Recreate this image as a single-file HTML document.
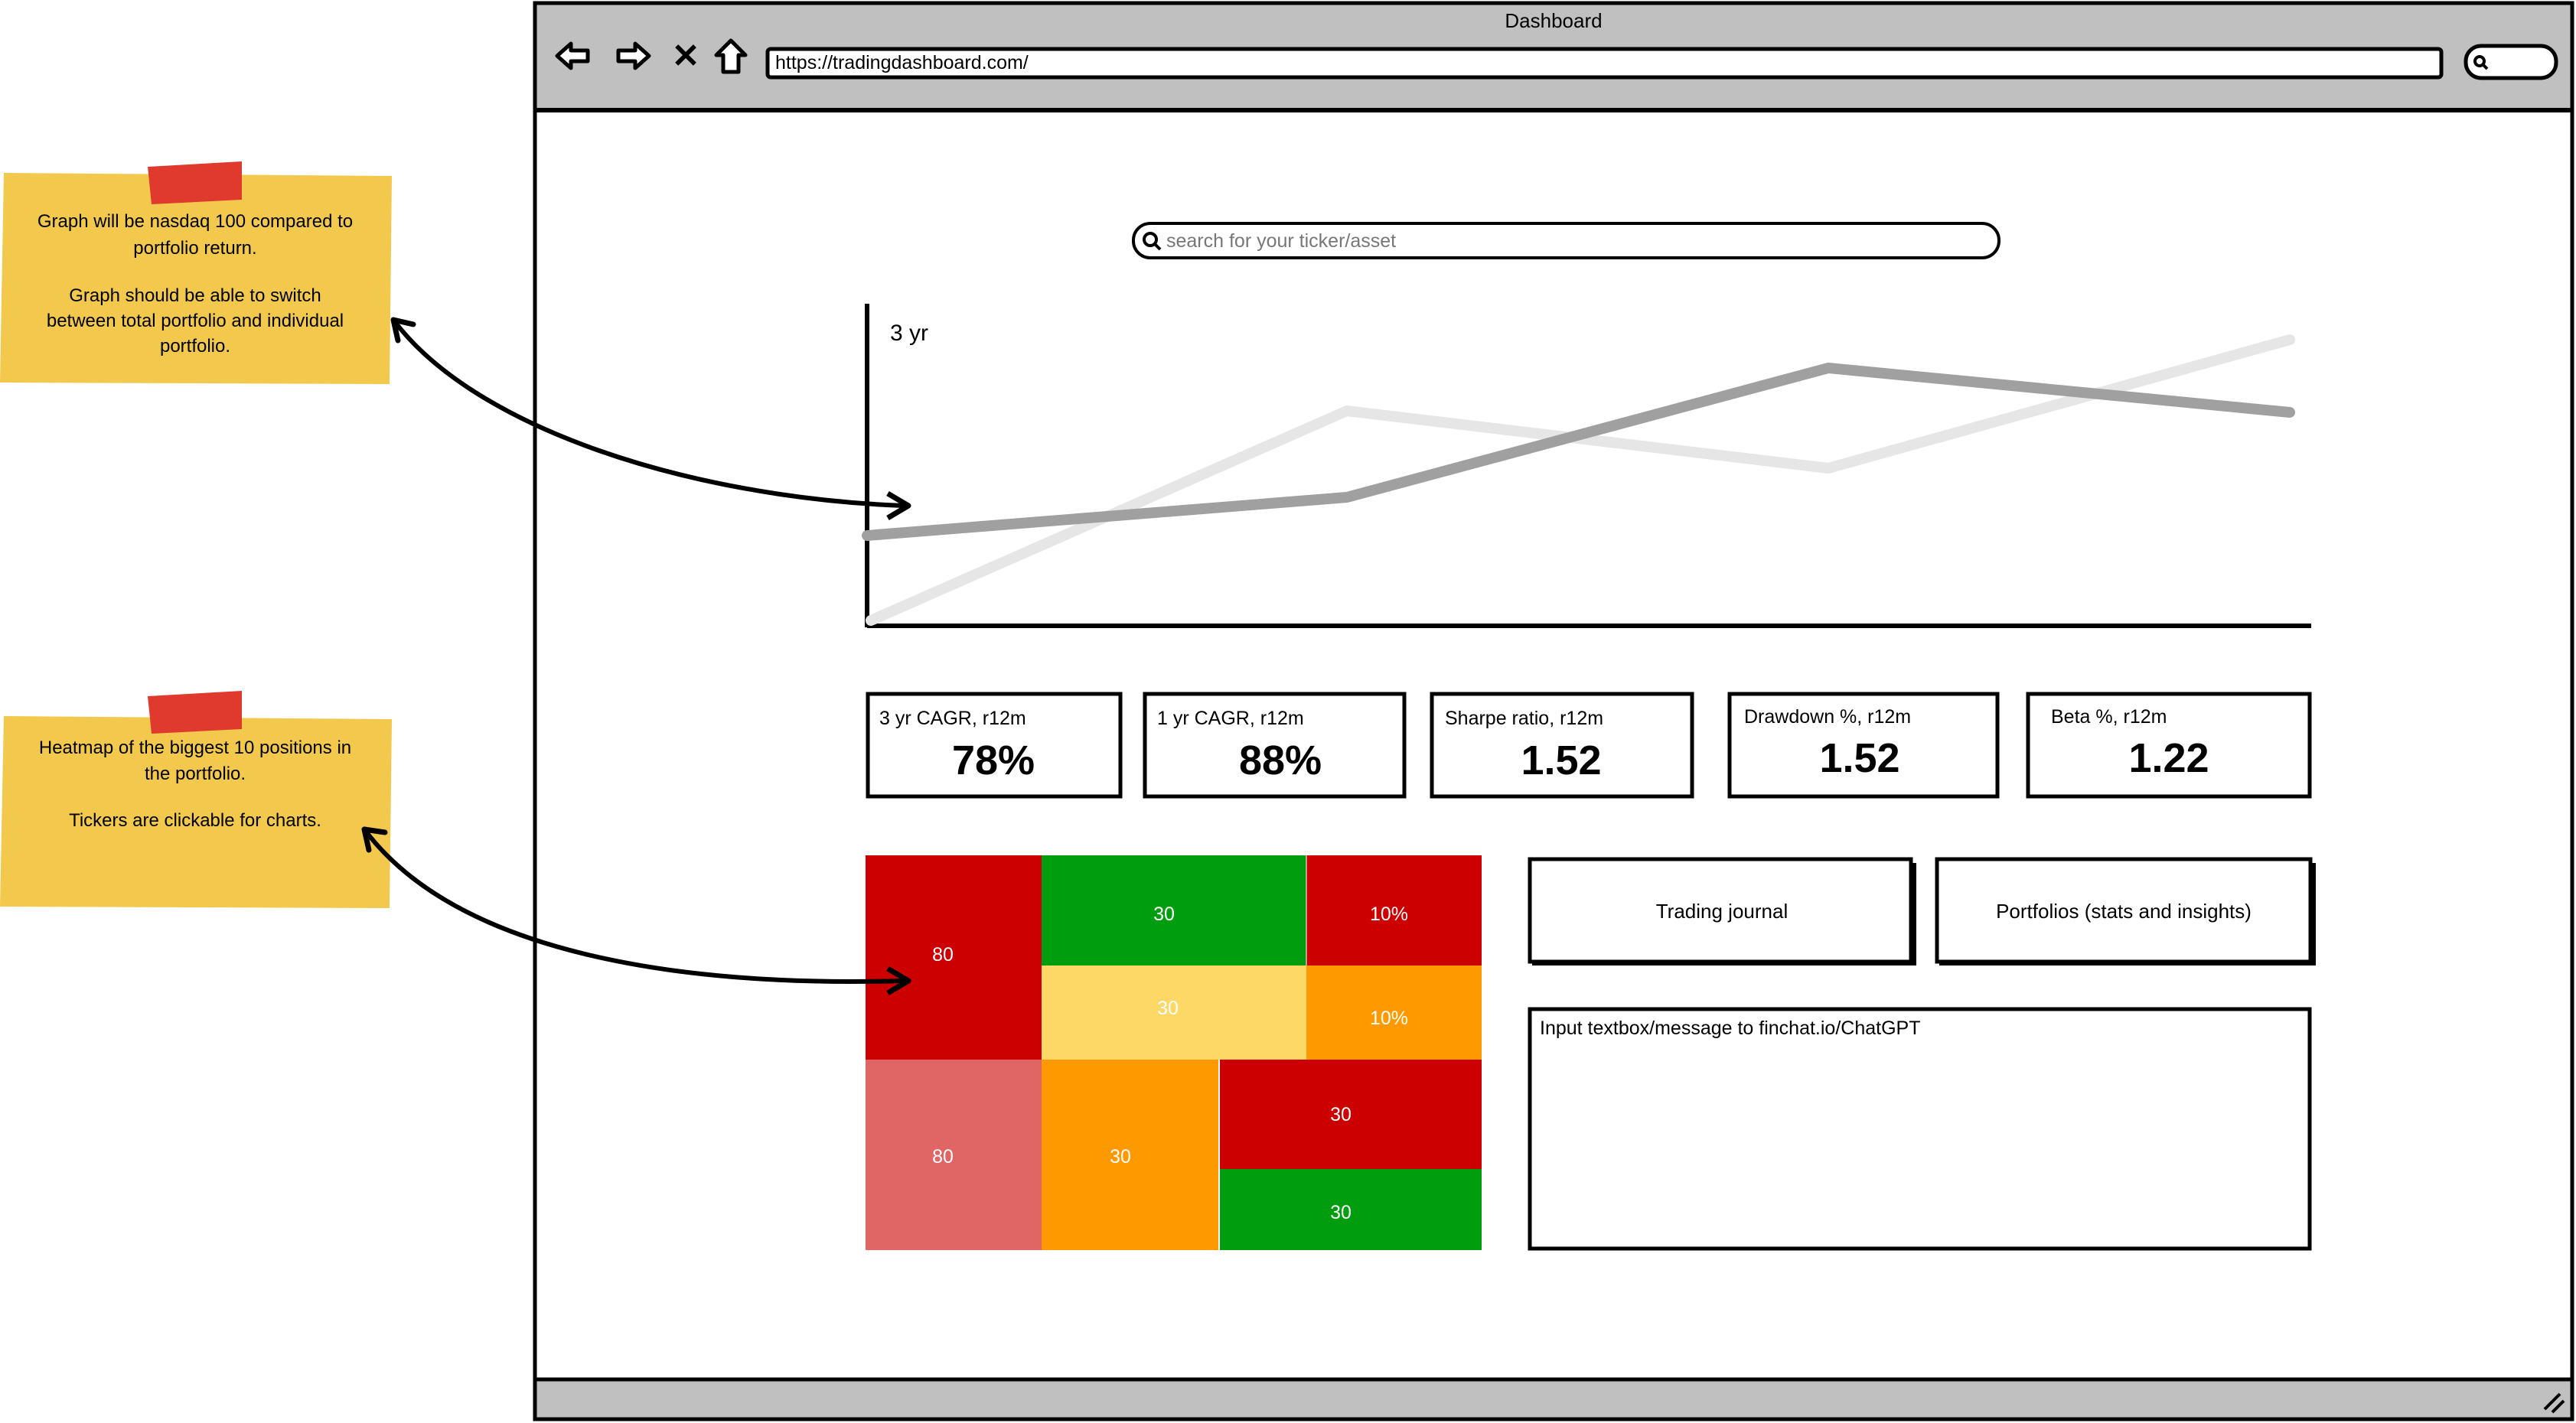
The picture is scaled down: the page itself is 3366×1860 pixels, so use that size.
<!DOCTYPE html>
<html><head><meta charset="utf-8"><style>
html,body{margin:0;padding:0;background:#fff;}
svg{display:block;}
text{font-family:"Liberation Sans",sans-serif;}
</style></head><body>
<svg width="3366" height="1860" viewBox="0 0 3366 1860" xmlns="http://www.w3.org/2000/svg">
<!-- browser window -->
<rect x="699" y="4" width="2662" height="1851" fill="#fff" stroke="#000" stroke-width="5"/>
<rect x="699" y="4" width="2662" height="140" fill="#c0c0c0" stroke="#000" stroke-width="5"/>
<rect x="699" y="1803" width="2662" height="52" fill="#c0c0c0" stroke="#000" stroke-width="5"/>
<line x1="699" y1="144" x2="3361" y2="144" stroke="#000" stroke-width="6"/>
<text x="2030" y="36" font-size="26" text-anchor="middle">Dashboard</text>
<!-- nav icons -->
<path d="M728 73 L746 57 L746 66 L768 66 L768 80 L746 80 L746 89 Z" fill="#fff" stroke="#000" stroke-width="5" stroke-linejoin="round"/>
<path d="M848 73 L830 57 L830 66 L808 66 L808 80 L830 80 L830 89 Z" fill="#fff" stroke="#000" stroke-width="5" stroke-linejoin="round"/>
<text x="896" y="88" font-size="44" font-weight="bold" text-anchor="middle">✕</text>
<path d="M955 53 L974 72 L965 72 L965 94 L945 94 L945 72 L936 72 Z" fill="#fff" stroke="#000" stroke-width="5" stroke-linejoin="round"/>
<rect x="1003" y="64" width="2187" height="37" rx="4" fill="#fff" stroke="#000" stroke-width="5"/>
<text x="1013" y="90" font-size="25">https://tradingdashboard.com/</text>
<rect x="3222" y="60" width="118" height="42" rx="20" fill="#fff" stroke="#000" stroke-width="5"/>
<circle cx="3240" cy="80" r="6" fill="none" stroke="#000" stroke-width="4"/>
<line x1="3244" y1="84" x2="3250" y2="90" stroke="#000" stroke-width="4"/>
<path d="M3325 1842 L3345 1822 M3335 1846 L3350 1831" stroke="#000" stroke-width="4"/>
<!-- search -->
<rect x="1481" y="292" width="1131" height="45" rx="22" fill="#fff" stroke="#000" stroke-width="4"/>
<circle cx="1503" cy="313" r="8" fill="none" stroke="#000" stroke-width="4"/>
<line x1="1509" y1="319" x2="1516" y2="326" stroke="#000" stroke-width="4"/>
<text x="1524" y="323" font-size="25" fill="#777">search for your ticker/asset</text>
<!-- chart -->
<line x1="1133" y1="397" x2="1133" y2="820" stroke="#000" stroke-width="6"/>
<line x1="1133" y1="818" x2="3020" y2="818" stroke="#000" stroke-width="6"/>
<text x="1163" y="445" font-size="30">3 yr</text>
<polyline points="1138,811 1760,537 2389,612 2992,444" fill="none" stroke="#e6e6e6" stroke-width="14" stroke-linecap="round" stroke-linejoin="round"/>
<polyline points="1133,700 1760,650 2389,481 2992,539" fill="none" stroke="#a0a0a0" stroke-width="14" stroke-linecap="round" stroke-linejoin="round"/>
<!-- stat cards -->
<g stroke="#000" stroke-width="5" fill="#fff">
<rect x="1134" y="907" width="330" height="134"/>
<rect x="1496" y="907" width="339" height="134"/>
<rect x="1871" y="907" width="340" height="134"/>
<rect x="2260" y="907" width="350" height="134"/>
<rect x="2650" y="907" width="368" height="134"/>
</g>
<g font-size="25">
<text x="1149" y="947">3 yr CAGR, r12m</text>
<text x="1512" y="947">1 yr CAGR, r12m</text>
<text x="1888" y="947">Sharpe ratio, r12m</text>
<text x="2279" y="945">Drawdown %, r12m</text>
<text x="2680" y="945">Beta %, r12m</text>
</g>
<g font-size="54" text-anchor="middle" font-weight="bold">
<text x="1298" y="1012">78%</text>
<text x="1673" y="1012">88%</text>
<text x="2040" y="1012">1.52</text>
<text x="2430" y="1009">1.52</text>
<text x="2834" y="1009">1.22</text>
</g>
<!-- heatmap -->
<rect x="1131" y="1118" width="230" height="267" fill="#cc0000"/>
<rect x="1361" y="1118" width="346" height="144" fill="#009e0f"/>
<rect x="1707" y="1118" width="229" height="144" fill="#cc0000"/>
<rect x="1361" y="1262" width="346" height="123" fill="#fdd866"/>
<rect x="1707" y="1262" width="229" height="123" fill="#ff9900"/>
<rect x="1131" y="1385" width="230" height="249" fill="#e06666"/>
<rect x="1361" y="1385" width="232" height="249" fill="#ff9900"/>
<rect x="1593" y="1385" width="343" height="143" fill="#cc0000"/>
<rect x="1593" y="1528" width="343" height="106" fill="#009e0f"/>
<line x1="1593" y1="1385" x2="1593" y2="1634" stroke="#fff" stroke-width="2"/>
<line x1="1707" y1="1118" x2="1707" y2="1262" stroke="#fff" stroke-width="1"/>
<g font-size="25" fill="#fff" text-anchor="middle">
<text x="1232" y="1256">80</text>
<text x="1521" y="1203">30</text>
<text x="1815" y="1203">10%</text>
<text x="1526" y="1326">30</text>
<text x="1815" y="1339">10%</text>
<text x="1232" y="1520">80</text>
<text x="1464" y="1520">30</text>
<text x="1752" y="1465">30</text>
<text x="1752" y="1593">30</text>
</g>
<!-- buttons -->
<rect x="2002" y="1128" width="502" height="134" fill="#000"/>
<rect x="1999" y="1123" width="498" height="134" fill="#fff" stroke="#000" stroke-width="5"/>
<rect x="2534" y="1128" width="492" height="134" fill="#000"/>
<rect x="2531" y="1123" width="488" height="134" fill="#fff" stroke="#000" stroke-width="5"/>
<text x="2250" y="1200" font-size="26" text-anchor="middle">Trading journal</text>
<text x="2775" y="1200" font-size="26" text-anchor="middle">Portfolios (stats and insights)</text>
<rect x="1999" y="1319" width="1019" height="313" fill="#fff" stroke="#000" stroke-width="5"/>
<text x="2012" y="1352" font-size="25">Input textbox/message to finchat.io/ChatGPT</text>
<!-- sticky notes -->
<path d="M5 226 L512 230 L509 502 L0 500 Z" fill="#f2c94c"/>
<path d="M193 218 L316 211 L316 261 L198 267 Z" fill="#e03a2f"/>
<g font-size="24" text-anchor="middle">
<text x="255" y="297">Graph will be nasdaq 100 compared to</text>
<text x="255" y="332">portfolio return.</text>
<text x="255" y="394">Graph should be able to switch</text>
<text x="255" y="427">between total portfolio and individual</text>
<text x="255" y="460">portfolio.</text>
</g>
<path d="M5 936 L512 940 L509 1187 L0 1185 Z" fill="#f2c94c"/>
<path d="M193 910 L316 903 L316 953 L198 959 Z" fill="#e03a2f"/>
<g font-size="24" text-anchor="middle">
<text x="255" y="985">Heatmap of the biggest 10 positions in</text>
<text x="255" y="1019">the portfolio.</text>
<text x="255" y="1080">Tickers are clickable for charts.</text>
</g>
<!-- arrows -->
<path d="M514 418 C620 560 900 650 1180 661" fill="none" stroke="#000" stroke-width="6"/>
<path d="M1160 645 L1187 661 L1160 677" fill="none" stroke="#000" stroke-width="7" stroke-linejoin="round"/>
<path d="M514 418 L520 445 M514 418 L540 424" stroke="#000" stroke-width="7" stroke-linecap="round"/>
<path d="M476 1084 C600 1250 900 1290 1180 1282" fill="none" stroke="#000" stroke-width="6"/>
<path d="M1160 1266 L1187 1282 L1160 1298" fill="none" stroke="#000" stroke-width="7" stroke-linejoin="round"/>
<path d="M476 1084 L482 1111 M476 1084 L503 1088" stroke="#000" stroke-width="7" stroke-linecap="round"/>
</svg>
</body></html>
